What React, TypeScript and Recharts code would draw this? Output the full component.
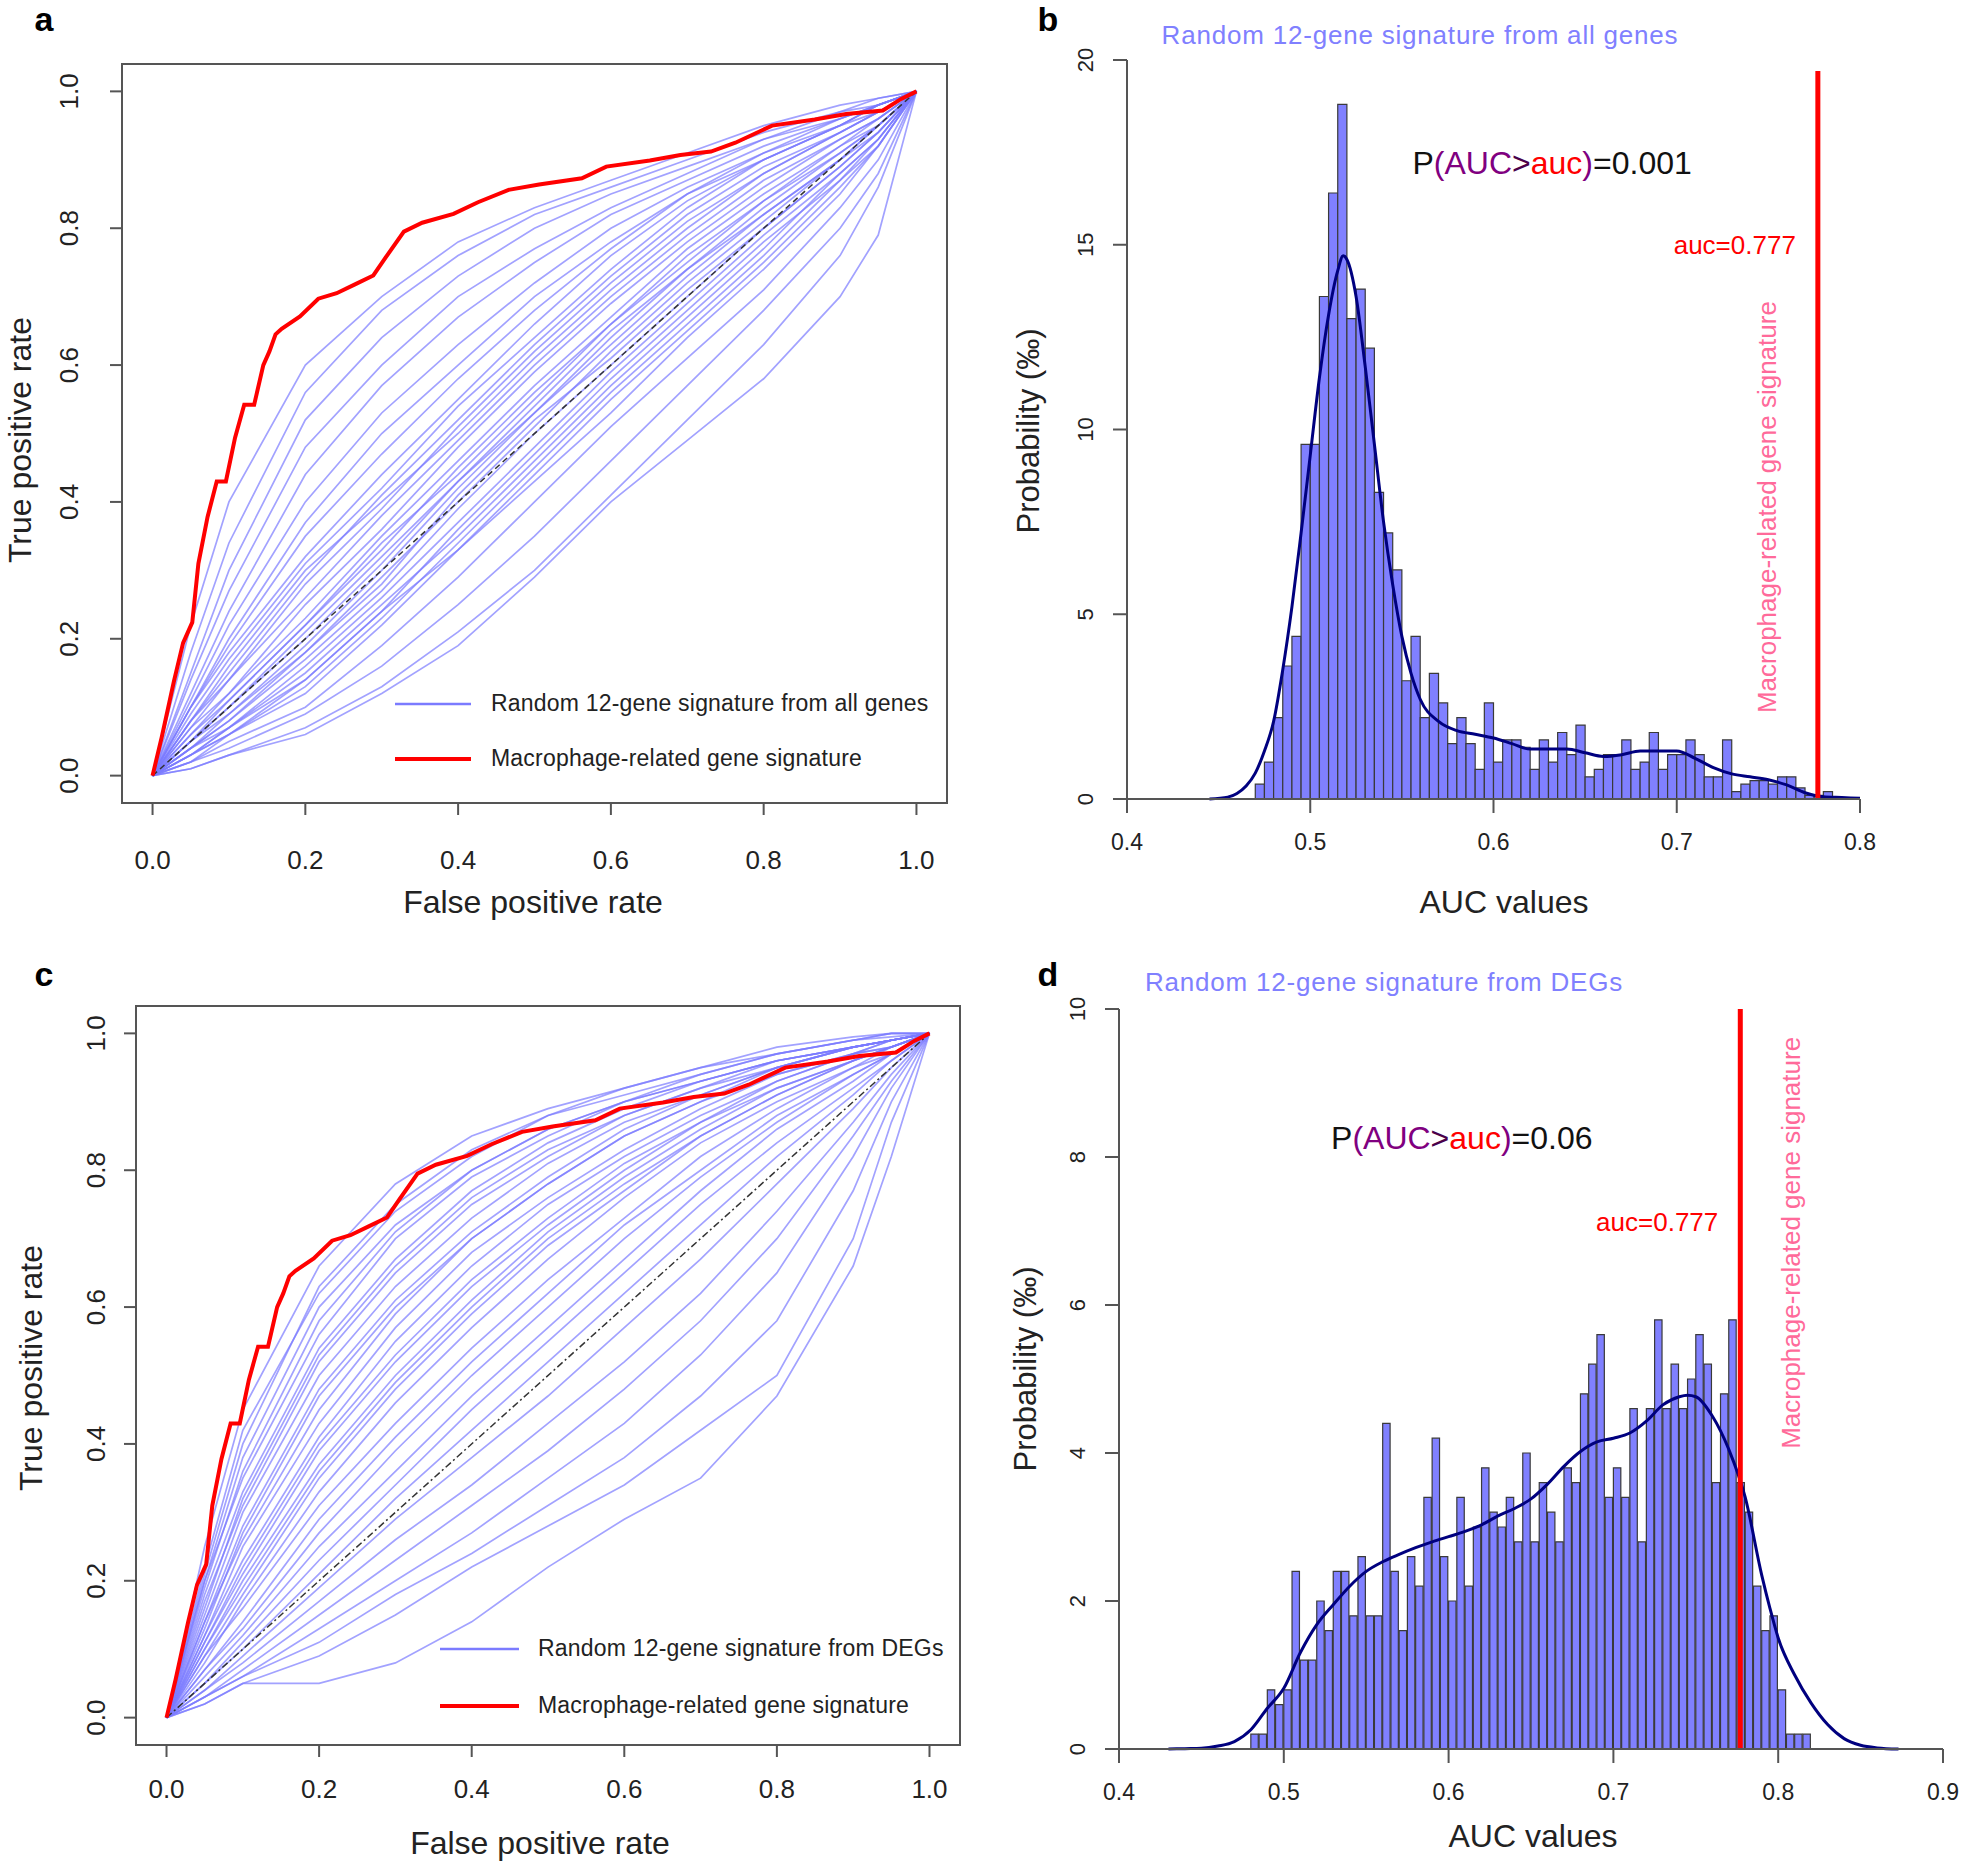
import React from 'react';
import {
  LineChart, Line, ComposedChart, Bar, XAxis, YAxis,
  ReferenceArea, ReferenceLine, ReferenceDot, Legend,
} from 'recharts';

const FONT = '"Liberation Sans", Arial, Helvetica, sans-serif';
const BLUE = '#7b7bff';
const RED = '#ff0000';
const NAVY = '#00007f';
const PINK = '#ff6a9a';
const AXIS = '#555555';
const INK = '#222222';

// ---------- ROC panels (a, c) ----------
const rocTicks = [0, 0.2, 0.4, 0.6, 0.8, 1];
const fprGrid = [0, 0.05, 0.1, 0.2, 0.3, 0.4, 0.5, 0.6, 0.7, 0.8, 0.9, 0.95, 1];

// true positive rate of each random signature at the fprGrid points (panel a)
const randomAllTpr = [
  [0, 0.22, 0.4, 0.6, 0.7, 0.78, 0.83, 0.87, 0.91, 0.95, 0.98, 0.99, 1],
  [0, 0.18, 0.34, 0.56, 0.68, 0.76, 0.82, 0.86, 0.9, 0.94, 0.97, 0.99, 1],
  [0, 0.15, 0.3, 0.52, 0.64, 0.73, 0.8, 0.85, 0.89, 0.93, 0.97, 0.98, 1],
  [0, 0.14, 0.27, 0.48, 0.6, 0.7, 0.77, 0.83, 0.88, 0.93, 0.96, 0.98, 1],
  [0, 0.12, 0.24, 0.44, 0.57, 0.67, 0.75, 0.82, 0.87, 0.92, 0.96, 0.98, 1],
  [0, 0.11, 0.22, 0.4, 0.53, 0.63, 0.72, 0.8, 0.86, 0.91, 0.96, 0.98, 1],
  [0, 0.1, 0.2, 0.37, 0.5, 0.6, 0.7, 0.78, 0.85, 0.91, 0.95, 0.98, 1],
  [0, 0.1, 0.19, 0.35, 0.47, 0.58, 0.68, 0.77, 0.85, 0.9, 0.95, 0.98, 1],
  [0, 0.1, 0.18, 0.32, 0.44, 0.55, 0.66, 0.76, 0.84, 0.9, 0.95, 0.98, 1],
  [0, 0.09, 0.17, 0.31, 0.42, 0.54, 0.64, 0.74, 0.83, 0.9, 0.95, 0.97, 1],
  [0, 0.08, 0.16, 0.3, 0.4, 0.5, 0.61, 0.71, 0.8, 0.88, 0.94, 0.97, 1],
  [0, 0.08, 0.15, 0.29, 0.41, 0.52, 0.63, 0.73, 0.82, 0.89, 0.94, 0.97, 1],
  [0, 0.08, 0.14, 0.28, 0.39, 0.51, 0.62, 0.72, 0.81, 0.88, 0.94, 0.97, 1],
  [0, 0.07, 0.14, 0.26, 0.38, 0.49, 0.6, 0.7, 0.79, 0.87, 0.93, 0.96, 1],
  [0, 0.06, 0.12, 0.25, 0.36, 0.48, 0.59, 0.69, 0.78, 0.86, 0.93, 0.96, 1],
  [0, 0.07, 0.12, 0.23, 0.35, 0.46, 0.57, 0.67, 0.77, 0.85, 0.92, 0.96, 1],
  [0, 0.06, 0.11, 0.22, 0.34, 0.44, 0.55, 0.66, 0.75, 0.84, 0.91, 0.95, 1],
  [0, 0.05, 0.11, 0.22, 0.33, 0.45, 0.56, 0.66, 0.76, 0.84, 0.92, 0.95, 1],
  [0, 0.05, 0.1, 0.21, 0.32, 0.43, 0.54, 0.65, 0.74, 0.83, 0.91, 0.95, 1],
  [0, 0.05, 0.1, 0.2, 0.31, 0.43, 0.53, 0.64, 0.74, 0.82, 0.9, 0.95, 1],
  [0, 0.04, 0.09, 0.19, 0.3, 0.42, 0.53, 0.63, 0.73, 0.82, 0.9, 0.95, 1],
  [0, 0.05, 0.09, 0.18, 0.29, 0.4, 0.51, 0.62, 0.72, 0.81, 0.9, 0.94, 1],
  [0, 0.04, 0.08, 0.18, 0.28, 0.41, 0.52, 0.61, 0.71, 0.8, 0.89, 0.94, 1],
  [0, 0.04, 0.08, 0.17, 0.27, 0.39, 0.5, 0.6, 0.7, 0.8, 0.89, 0.94, 1],
  [0, 0.03, 0.07, 0.16, 0.26, 0.37, 0.48, 0.59, 0.69, 0.79, 0.88, 0.93, 1],
  [0, 0.03, 0.07, 0.15, 0.25, 0.35, 0.46, 0.57, 0.67, 0.77, 0.88, 0.93, 1],
  [0, 0.04, 0.07, 0.14, 0.24, 0.36, 0.47, 0.58, 0.68, 0.78, 0.87, 0.93, 1],
  [0, 0.03, 0.06, 0.13, 0.23, 0.34, 0.45, 0.56, 0.66, 0.76, 0.87, 0.92, 1],
  [0, 0.02, 0.06, 0.14, 0.24, 0.33, 0.43, 0.53, 0.64, 0.74, 0.85, 0.92, 1],
  [0, 0.03, 0.06, 0.12, 0.22, 0.33, 0.44, 0.55, 0.65, 0.75, 0.86, 0.92, 1],
  [0, 0.02, 0.05, 0.1, 0.19, 0.29, 0.4, 0.51, 0.61, 0.71, 0.83, 0.9, 1],
  [0, 0.02, 0.04, 0.09, 0.16, 0.25, 0.35, 0.46, 0.57, 0.68, 0.8, 0.88, 1],
  [0, 0.01, 0.03, 0.07, 0.13, 0.21, 0.3, 0.41, 0.52, 0.63, 0.76, 0.86, 1],
  [0, 0.01, 0.03, 0.06, 0.12, 0.19, 0.29, 0.4, 0.49, 0.58, 0.7, 0.79, 1],
];

// same, for random signatures drawn from DEGs (panel c)
const randomDegTpr = [
  [0, 0.25, 0.45, 0.66, 0.78, 0.85, 0.89, 0.92, 0.95, 0.98, 0.995, 1, 1],
  [0, 0.22, 0.42, 0.62, 0.74, 0.82, 0.88, 0.91, 0.94, 0.97, 0.99, 1, 1],
  [0, 0.21, 0.4, 0.63, 0.75, 0.83, 0.88, 0.92, 0.95, 0.97, 0.99, 1, 1],
  [0, 0.2, 0.38, 0.6, 0.72, 0.8, 0.86, 0.9, 0.94, 0.97, 0.99, 0.995, 1],
  [0, 0.19, 0.36, 0.58, 0.71, 0.8, 0.86, 0.9, 0.93, 0.96, 0.98, 0.99, 1],
  [0, 0.2, 0.35, 0.56, 0.7, 0.79, 0.85, 0.9, 0.93, 0.96, 0.98, 0.99, 1],
  [0, 0.18, 0.33, 0.54, 0.67, 0.77, 0.84, 0.89, 0.93, 0.96, 0.98, 0.99, 1],
  [0, 0.16, 0.32, 0.53, 0.66, 0.76, 0.83, 0.88, 0.92, 0.96, 0.98, 0.99, 1],
  [0, 0.17, 0.31, 0.52, 0.65, 0.75, 0.82, 0.88, 0.92, 0.95, 0.98, 0.99, 1],
  [0, 0.15, 0.3, 0.5, 0.63, 0.73, 0.81, 0.87, 0.91, 0.95, 0.98, 0.99, 1],
  [0, 0.14, 0.28, 0.48, 0.61, 0.71, 0.79, 0.86, 0.91, 0.95, 0.98, 0.99, 1],
  [0, 0.13, 0.27, 0.47, 0.6, 0.7, 0.78, 0.85, 0.9, 0.95, 0.98, 0.99, 1],
  [0, 0.14, 0.26, 0.45, 0.59, 0.7, 0.78, 0.85, 0.9, 0.94, 0.97, 0.99, 1],
  [0, 0.12, 0.25, 0.43, 0.57, 0.68, 0.76, 0.83, 0.89, 0.94, 0.97, 0.99, 1],
  [0, 0.12, 0.23, 0.41, 0.55, 0.66, 0.75, 0.82, 0.88, 0.93, 0.97, 0.98, 1],
  [0, 0.11, 0.22, 0.4, 0.53, 0.64, 0.73, 0.81, 0.87, 0.93, 0.97, 0.98, 1],
  [0, 0.11, 0.21, 0.39, 0.52, 0.63, 0.72, 0.8, 0.87, 0.92, 0.96, 0.98, 1],
  [0, 0.1, 0.2, 0.37, 0.5, 0.61, 0.71, 0.79, 0.86, 0.92, 0.96, 0.98, 1],
  [0, 0.1, 0.19, 0.36, 0.49, 0.6, 0.7, 0.78, 0.85, 0.91, 0.96, 0.98, 1],
  [0, 0.09, 0.18, 0.35, 0.48, 0.59, 0.69, 0.77, 0.85, 0.91, 0.96, 0.98, 1],
  [0, 0.08, 0.17, 0.33, 0.46, 0.57, 0.67, 0.76, 0.84, 0.9, 0.95, 0.98, 1],
  [0, 0.09, 0.16, 0.31, 0.43, 0.54, 0.64, 0.73, 0.82, 0.89, 0.95, 0.97, 1],
  [0, 0.07, 0.14, 0.29, 0.41, 0.52, 0.62, 0.72, 0.8, 0.88, 0.94, 0.97, 1],
  [0, 0.07, 0.13, 0.27, 0.39, 0.5, 0.6, 0.7, 0.79, 0.87, 0.94, 0.97, 1],
  [0, 0.06, 0.12, 0.25, 0.36, 0.47, 0.57, 0.67, 0.77, 0.86, 0.93, 0.97, 1],
  [0, 0.05, 0.11, 0.23, 0.34, 0.45, 0.55, 0.65, 0.75, 0.84, 0.92, 0.96, 1],
  [0, 0.05, 0.1, 0.21, 0.32, 0.42, 0.52, 0.62, 0.72, 0.82, 0.91, 0.96, 1],
  [0, 0.04, 0.09, 0.19, 0.29, 0.38, 0.47, 0.57, 0.67, 0.78, 0.89, 0.95, 1],
  [0, 0.04, 0.08, 0.17, 0.26, 0.34, 0.43, 0.52, 0.62, 0.74, 0.87, 0.94, 1],
  [0, 0.03, 0.07, 0.15, 0.23, 0.31, 0.39, 0.48, 0.58, 0.7, 0.85, 0.93, 1],
  [0, 0.03, 0.06, 0.13, 0.2, 0.27, 0.35, 0.43, 0.53, 0.65, 0.82, 0.92, 1],
  [0, 0.03, 0.06, 0.11, 0.18, 0.24, 0.31, 0.38, 0.47, 0.58, 0.77, 0.9, 1],
  [0, 0.02, 0.05, 0.09, 0.15, 0.22, 0.28, 0.34, 0.42, 0.5, 0.7, 0.87, 1],
  [0, 0.02, 0.05, 0.05, 0.08, 0.14, 0.22, 0.29, 0.35, 0.47, 0.66, 0.82, 1],
];

// macrophage-related gene signature ROC (same in a and c)
const macroFpr = [0, 0.012, 0.028, 0.04, 0.052, 0.06, 0.072, 0.084, 0.096, 0.108, 0.12, 0.133, 0.145, 0.153, 0.161, 0.169, 0.193, 0.217, 0.241, 0.265, 0.289, 0.305, 0.329, 0.353, 0.394, 0.426, 0.466, 0.506, 0.562, 0.594, 0.651, 0.691, 0.731, 0.763, 0.811, 0.867, 0.908, 0.956, 0.98, 1];
const macroTpr = [0, 0.056, 0.138, 0.194, 0.224, 0.31, 0.378, 0.43, 0.43, 0.494, 0.542, 0.542, 0.6, 0.62, 0.645, 0.653, 0.671, 0.697, 0.705, 0.718, 0.731, 0.757, 0.795, 0.808, 0.821, 0.838, 0.856, 0.864, 0.873, 0.89, 0.899, 0.907, 0.912, 0.925, 0.95, 0.959, 0.967, 0.972, 0.989, 1];

const chance = [0, 1];

// ---------- histogram panels (b, d) ----------
const observedAuc = 0.777;

const aucTicksAll = [0.4, 0.5, 0.6, 0.7, 0.8];
const probTicksAll = [0, 5, 10, 15, 20];
const binMidAll = [
  0.4725, 0.4775, 0.4825, 0.4875, 0.4925, 0.4975, 0.5025, 0.5075, 0.5125, 0.5175,
  0.5225, 0.5275, 0.5325, 0.5375, 0.5425, 0.5475, 0.5525, 0.5575, 0.5625, 0.5675,
  0.5725, 0.5775, 0.5825, 0.5875, 0.5925, 0.5975, 0.6025, 0.6075, 0.6125, 0.6175,
  0.6225, 0.6275, 0.6325, 0.6375, 0.6425, 0.6475, 0.6525, 0.6575, 0.6625, 0.6675,
  0.6725, 0.6775, 0.6825, 0.6875, 0.6925, 0.6975, 0.7025, 0.7075, 0.7125, 0.7175,
  0.7225, 0.7275, 0.7325, 0.7375, 0.7425, 0.7475, 0.7525, 0.7575, 0.7625, 0.7675,
  0.7725, 0.7775, 0.7825, 0.7875,
];
const probAll = [
  0.4, 1.0, 2.2, 3.6, 4.4, 9.6, 9.6, 13.6, 16.4, 18.8,
  13.0, 13.8, 12.2, 8.3, 7.2, 6.2, 3.2, 4.4, 2.2, 3.4,
  2.6, 1.5, 2.2, 1.5, 0.8, 2.6, 1.0, 1.6, 1.6, 1.4,
  0.8, 1.6, 1.0, 1.8, 1.2, 2.0, 0.6, 0.8, 1.2, 1.2,
  1.6, 0.8, 1.0, 1.8, 0.8, 1.2, 1.2, 1.6, 1.2, 0.6,
  0.6, 1.6, 0.2, 0.4, 0.5, 0.5, 0.4, 0.6, 0.6, 0.3,
  0.1, 0.1, 0.2, 0.05,
];
const densAucAll = [0.445, 0.455, 0.46, 0.465, 0.47, 0.475, 0.48, 0.485, 0.49, 0.495, 0.5, 0.505, 0.51, 0.515, 0.518, 0.52, 0.525, 0.53, 0.535, 0.54, 0.545, 0.55, 0.555, 0.56, 0.57, 0.58, 0.59, 0.6, 0.61, 0.62, 0.63, 0.64, 0.65, 0.66, 0.67, 0.68, 0.69, 0.7, 0.71, 0.72, 0.73, 0.74, 0.75, 0.76, 0.77, 0.78, 0.79, 0.8];
const densAll = [0, 0.05, 0.15, 0.35, 0.7, 1.3, 2.1, 3.5, 5.2, 7.2, 9.3, 11.4, 13.1, 14.3, 14.7, 14.6, 13.6, 11.7, 9.6, 7.5, 5.8, 4.4, 3.4, 2.7, 2.1, 1.85, 1.75, 1.65, 1.5, 1.35, 1.35, 1.35, 1.25, 1.15, 1.2, 1.3, 1.3, 1.3, 1.1, 0.85, 0.68, 0.6, 0.52, 0.38, 0.17, 0.06, 0.04, 0.02];

const aucTicksDeg = [0.4, 0.5, 0.6, 0.7, 0.8, 0.9];
const probTicksDeg = [0, 2, 4, 6, 8, 10];
const binMidDeg = [
  0.4825, 0.4875, 0.4925, 0.4975, 0.5025, 0.5075, 0.5125, 0.5175, 0.5225, 0.5275,
  0.5325, 0.5375, 0.5425, 0.5475, 0.5525, 0.5575, 0.5625, 0.5675, 0.5725, 0.5775,
  0.5825, 0.5875, 0.5925, 0.5975, 0.6025, 0.6075, 0.6125, 0.6175, 0.6225, 0.6275,
  0.6325, 0.6375, 0.6425, 0.6475, 0.6525, 0.6575, 0.6625, 0.6675, 0.6725, 0.6775,
  0.6825, 0.6875, 0.6925, 0.6975, 0.7025, 0.7075, 0.7125, 0.7175, 0.7225, 0.7275,
  0.7325, 0.7375, 0.7425, 0.7475, 0.7525, 0.7575, 0.7625, 0.7675, 0.7725, 0.7775,
  0.7825, 0.7875, 0.7925, 0.7975, 0.8025, 0.8075, 0.8125, 0.8175,
];
const probDeg = [
  0.2, 0.2, 0.8, 0.6, 0.8, 2.4, 1.2, 1.2, 2.0, 1.6,
  2.4, 2.4, 1.8, 2.6, 1.8, 1.8, 4.4, 2.4, 1.6, 2.6,
  2.2, 3.4, 4.2, 2.6, 2.0, 3.4, 2.2, 3.0, 3.8, 3.2,
  3.0, 3.4, 2.8, 4.0, 2.8, 3.6, 3.2, 2.8, 3.8, 3.6,
  4.8, 5.2, 5.6, 3.4, 3.8, 3.4, 4.6, 2.8, 4.6, 5.8,
  4.6, 5.2, 4.6, 5.0, 5.6, 5.2, 3.6, 4.8, 5.8, 3.6,
  3.2, 2.2, 1.6, 1.8, 0.8, 0.2, 0.2, 0.2,
];
const densAucDeg = [0.43, 0.44, 0.45, 0.46, 0.47, 0.48, 0.49, 0.5, 0.51, 0.52, 0.53, 0.54, 0.55, 0.56, 0.57, 0.58, 0.59, 0.6, 0.61, 0.62, 0.63, 0.64, 0.65, 0.66, 0.67, 0.68, 0.69, 0.7, 0.71, 0.72, 0.73, 0.74, 0.745, 0.75, 0.76, 0.77, 0.78, 0.79, 0.795, 0.8, 0.81, 0.82, 0.83, 0.84, 0.85, 0.86, 0.873];
const densDeg = [0, 0.005, 0.01, 0.04, 0.1, 0.26, 0.55, 0.82, 1.3, 1.68, 1.95, 2.2, 2.4, 2.53, 2.63, 2.72, 2.8, 2.87, 2.94, 3.03, 3.15, 3.25, 3.38, 3.58, 3.82, 4.02, 4.15, 4.2, 4.27, 4.43, 4.65, 4.76, 4.78, 4.76, 4.5, 4.05, 3.4, 2.35, 1.9, 1.5, 1.0, 0.62, 0.33, 0.14, 0.05, 0.015, 0];

// ---------- helpers ----------
const zip = (xs: number[], ys: number[]) => xs.map((x, i) => ({ x, y: ys[i] }));
const f1 = (v: number) => v.toFixed(1);
const fInt = (v: number) => String(v);

const RotTick = (p: any) => {
  const { x, y, payload, fontSize, fmt } = p;
  return (
    <text x={x} y={y} dy="0.36em" textAnchor="middle" transform={`rotate(-90 ${x} ${y})`}
      fontSize={fontSize} fill={INK} fontFamily={FONT}>
      {fmt(payload.value)}
    </text>
  );
};

const AbsText = ({ x, y, text, size, rotate, color, spacing }: any) => (
  <text x={x} y={y} textAnchor="middle" dominantBaseline="central" fontSize={size}
    fill={color || INK} fontFamily={FONT} letterSpacing={spacing || 0}
    transform={rotate ? `rotate(-90 ${x} ${y})` : undefined}>
    {text}
  </text>
);

const RocLegend = ({ items, lineLen, gap, rowH }: any) => (
  <div style={{ fontFamily: FONT, fontSize: 23, color: INK, letterSpacing: 0.2 }}>
    {items.map((it: any) => (
      <div key={it.label} style={{ display: 'flex', alignItems: 'center', height: rowH }}>
        <svg width={lineLen} height={8} style={{ flex: 'none' }}>
          <line x1={0} y1={4} x2={lineLen} y2={4} stroke={it.color} strokeWidth={it.w} />
        </svg>
        <span style={{ marginLeft: gap, whiteSpace: 'nowrap' }}>{it.label}</span>
      </div>
    ))}
  </div>
);

function RocPanel(props: any) {
  const { top, width, height, margin, curves, legendText, legendPos, rowH, lineLen, legendGap,
    xTickMargin, yTickMargin, diagDash, xTitle, yTitle } = props;
  const items = [
    { label: legendText, color: BLUE, w: 2.5 },
    { label: 'Macrophage-related gene signature', color: RED, w: 4 },
  ];
  return (
    <div style={{ position: 'absolute', left: 0, top }}>
      <LineChart width={width} height={height} margin={margin}>
        <XAxis type="number" dataKey="x" domain={[-0.04, 1.04]} ticks={rocTicks} tickFormatter={f1}
          axisLine={false} tickLine={{ stroke: AXIS, strokeWidth: 2 }} tickSize={12} tickMargin={xTickMargin}
          tick={{ fontSize: 26, fill: INK }} height={80}
          label={{ content: () => <AbsText x={xTitle[0]} y={xTitle[1]} text="False positive rate" size={32} /> }} />
        <YAxis type="number" domain={[-0.04, 1.04]} ticks={rocTicks} width={100}
          axisLine={false} tickLine={{ stroke: AXIS, strokeWidth: 2 }} tickSize={12} tickMargin={yTickMargin}
          tick={(p: any) => <RotTick {...p} fontSize={26} fmt={f1} />}
          label={{ content: () => <AbsText x={yTitle[0]} y={yTitle[1]} text="True positive rate" size={32} rotate /> }} />
        <ReferenceArea x1={-0.04} x2={1.04} y1={-0.04} y2={1.04} fill="none" fillOpacity={0}
          stroke={AXIS} strokeWidth={2} />
        {curves.map((c: number[], i: number) => (
          <Line key={i} data={zip(fprGrid, c)} dataKey="y" type="linear" stroke={BLUE}
            strokeOpacity={0.7} strokeWidth={1.7} dot={false} isAnimationActive={false} />
        ))}
        <Line data={zip(chance, chance)} dataKey="y" type="linear" stroke="#333"
          strokeDasharray={diagDash} strokeWidth={1.5} dot={false} isAnimationActive={false} />
        <Line data={zip(macroFpr, macroTpr)} dataKey="y" type="linear" stroke={RED}
          strokeWidth={4} dot={false} isAnimationActive={false} />
        <Legend layout="horizontal" verticalAlign="middle" align="center"
          wrapperStyle={{ left: legendPos[0], top: legendPos[1], width: 600, height: rowH * 2 }}
          content={() => <RocLegend items={items} lineLen={lineLen} gap={legendGap} rowH={rowH} />} />
      </LineChart>
    </div>
  );
}

const PText = ({ viewBox, parts }: any) => {
  if (!viewBox) return null;
  const cx = viewBox.x + viewBox.width / 2;
  const cy = viewBox.y + viewBox.height / 2;
  return (
    <text x={cx} y={cy} textAnchor="middle" dominantBaseline="central" fontSize={32} fontFamily={FONT}>
      {parts.map((p: any, i: number) => <tspan key={i} fill={p.c}>{p.t}</tspan>)}
    </text>
  );
};

const AucText = ({ viewBox, dx }: any) => {
  if (!viewBox) return null;
  const cx = viewBox.x + viewBox.width / 2 + dx;
  const cy = viewBox.y + viewBox.height / 2;
  return (
    <text x={cx} y={cy} textAnchor="end" dominantBaseline="central" fontSize={26} fill={RED} fontFamily={FONT}>
      auc=0.777
    </text>
  );
};

const SigText = ({ viewBox, dx }: any) => {
  if (!viewBox) return null;
  const cx = viewBox.x + viewBox.width / 2 + dx;
  const cy = viewBox.y + viewBox.height / 2;
  return (
    <text x={cx} y={cy} textAnchor="middle" dominantBaseline="central" fontSize={26} fill={PINK}
      fontFamily={FONT} transform={`rotate(-90 ${cx} ${cy})`}>
      Macrophage-related gene signature
    </text>
  );
};

function HistPanel(props: any) {
  const { left, top, width, height, margin, bins, probs, densX, densY, xDomain, xTicks, yDomain, yTicks,
    barSize, title, titlePos, pValue, pPos, aucY, sigY, sigDx, redTop, redWidth, xTitle, yTitle } = props;
  const barData = bins.map((b: number, i: number) => ({ auc: b, p: probs[i] }));
  const densData = densX.map((x: number, i: number) => ({ auc: x, d: densY[i] }));
  const parts = [
    { t: 'P', c: '#111' }, { t: '(AUC', c: '#800080' }, { t: '>', c: '#4a004a' },
    { t: 'auc', c: RED }, { t: ')', c: '#800080' }, { t: `=${pValue}`, c: '#111' },
  ];
  return (
    <div style={{ position: 'absolute', left, top }}>
      <ComposedChart width={width} height={height} data={barData} margin={margin}>
        <XAxis type="number" dataKey="auc" domain={xDomain} ticks={xTicks} tickFormatter={f1}
          axisLine={{ stroke: AXIS, strokeWidth: 2 }} tickLine={{ stroke: AXIS, strokeWidth: 2 }}
          tickSize={14} tickMargin={21} tick={{ fontSize: 23, fill: INK }} height={80}
          label={{ content: () => <AbsText x={xTitle[0]} y={xTitle[1]} text="AUC values" size={32} /> }} />
        {/* separate hidden axis for the density curve, so its points do not shrink the bar band */}
        <XAxis xAxisId="dens" type="number" dataKey="auc" domain={xDomain} hide height={80} />
        <YAxis type="number" domain={yDomain} ticks={yTicks} width={100}
          axisLine={{ stroke: AXIS, strokeWidth: 2 }} tickLine={{ stroke: AXIS, strokeWidth: 2 }}
          tickSize={14} tickMargin={28}
          tick={(p: any) => <RotTick {...p} fontSize={22} fmt={fInt} />}
          label={{
            content: () => (
              <g>
                <AbsText x={yTitle[0]} y={yTitle[1]} text="Probability (‰)" size={31} rotate />
                <AbsText x={titlePos[0]} y={titlePos[1]} text={title} size={26} color="#8080ff" spacing={0.8} />
              </g>
            ),
          }} />
        <Bar dataKey="p" fill="#8080ff" stroke="#3a3a3a" strokeWidth={1.2} barSize={barSize}
          isAnimationActive={false} />
        <Line xAxisId="dens" data={densData} dataKey="d" type="monotone" stroke={NAVY} strokeWidth={3}
          dot={false} isAnimationActive={false} />
        <ReferenceLine segment={[{ x: observedAuc, y: 0 }, { x: observedAuc, y: redTop }]}
          stroke={RED} strokeWidth={redWidth} />
        <ReferenceDot x={pPos[0]} y={pPos[1]} r={0} fill="none" stroke="none"
          label={{ content: (lp: any) => <PText {...lp} parts={parts} /> }} />
        <ReferenceDot x={observedAuc} y={aucY} r={0} fill="none" stroke="none"
          label={{ content: (lp: any) => <AucText {...lp} dx={-22} /> }} />
        <ReferenceDot x={observedAuc} y={sigY} r={0} fill="none" stroke="none"
          label={{ content: (lp: any) => <SigText {...lp} dx={sigDx} /> }} />
      </ComposedChart>
    </div>
  );
}

const PanelLetter = ({ x, y, text }: any) => (
  <div style={{
    position: 'absolute', left: x, top: y, transform: 'translate(-50%, -50%)',
    fontFamily: FONT, fontWeight: 'bold', fontSize: 34, lineHeight: 1, color: '#000',
  }}>{text}</div>
);

export default function App() {
  return (
    <div style={{
      position: 'absolute', left: 0, top: 0, width: 1961, height: 1864,
      background: '#fff', fontFamily: FONT, overflow: 'hidden',
    }}>
      <RocPanel top={0} width={980} height={930}
        margin={{ top: 64, right: 33, bottom: 47, left: 22 }}
        curves={randomAllTpr} legendText="Random 12-gene signature from all genes"
        legendPos={[395, 676]} rowH={55} lineLen={76} legendGap={20}
        xTickMargin={36} yTickMargin={41} diagDash="6 4"
        xTitle={[533, 902]} yTitle={[20, 440]} />
      <RocPanel top={940} width={980} height={924}
        margin={{ top: 66, right: 20, bottom: 39, left: 36 }}
        curves={randomDegTpr} legendText="Random 12-gene signature from DEGs"
        legendPos={[440, 680]} rowH={57} lineLen={79} legendGap={19}
        xTickMargin={23} yTickMargin={28} diagDash="7 3 2 3"
        xTitle={[540, 903]} yTitle={[31, 428]} />
      <HistPanel left={980} top={0} width={981} height={930}
        margin={{ top: 60, right: 101, bottom: 51, left: 47 }}
        bins={binMidAll} probs={probAll} densX={densAucAll} densY={densAll}
        xDomain={[0.4, 0.8]} xTicks={aucTicksAll} yDomain={[0, 20]} yTicks={probTicksAll}
        barSize={9.16} title="Random 12-gene signature  from all genes" titlePos={[440, 35]}
        pValue="0.001" pPos={[0.632, 17.2]} aucY={15.0} sigY={7.9} sigDx={-51}
        redTop={19.7} redWidth={5} xTitle={[524, 902]} yTitle={[48, 431]} />
      <HistPanel left={980} top={940} width={981} height={924}
        margin={{ top: 69, right: 18, bottom: 35, left: 39 }}
        bins={binMidDeg} probs={probDeg} densX={densAucDeg} densY={densDeg}
        xDomain={[0.4, 0.9]} xTicks={aucTicksDeg} yDomain={[0, 10]} yTicks={probTicksDeg}
        barSize={8.24} title="Random 12-gene signature  from DEGs" titlePos={[404, 42]}
        pValue="0.06" pPos={[0.608, 8.26]} aucY={7.12} sigY={6.84} sigDx={51}
        redTop={10} redWidth={5} xTitle={[553, 896]} yTitle={[45, 429]} />
      <PanelLetter x={44} y={19} text="a" />
      <PanelLetter x={1048} y={19} text="b" />
      <PanelLetter x={44} y={974} text="c" />
      <PanelLetter x={1048} y={974} text="d" />
    </div>
  );
}
